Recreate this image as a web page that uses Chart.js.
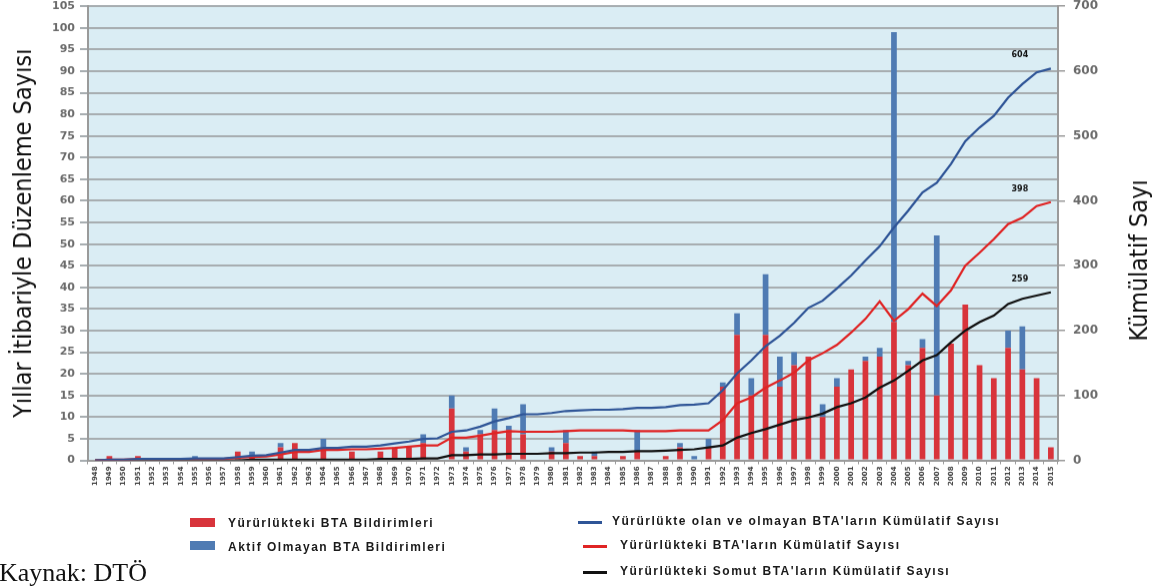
<!DOCTYPE html>
<html>
<head>
<meta charset="utf-8">
<script src="https://cdn.jsdelivr.net/npm/chart.js@4.4.0/dist/chart.umd.min.js"></script>
<style>
  body { margin: 0; background: #fff; width: 1173px; height: 587px; overflow: hidden; position: relative; font-family: "Liberation Sans", Arial, sans-serif; }
  #wrap { position: absolute; left: 0; top: -9px; width: 1173px; height: 587px; }
  .leg { position: absolute; font-weight: bold; font-size: 12px; letter-spacing: 1.5px; color: #1a1a1a; white-space: nowrap; line-height: 13px; }
  .sw { position: absolute; width: 25px; height: 9px; }
  .ln { position: absolute; width: 24px; height: 3px; }
  #src { position: absolute; left: -1px; top: 560px; font-family: "Liberation Serif", serif; font-size: 26px; line-height: 26px; color: #111; }
</style>
</head>
<body>
<div id="wrap"><canvas id="bta"></canvas></div>

<div class="sw" style="left:190px;top:518px;background:#d8343b"></div>
<div class="leg" style="left:228px;top:517px">Yürürlükteki BTA Bildirimleri</div>
<div class="sw" style="left:190px;top:541px;background:#4f7bb3"></div>
<div class="leg" style="left:228px;top:541px">Aktif Olmayan BTA Bildirimleri</div>

<div class="ln" style="left:578px;top:521px;background:#2f5597"></div>
<div class="leg" style="left:612px;top:515px">Yürürlükte olan ve olmayan BTA'ların Kümülatif Sayısı</div>
<div class="ln" style="left:583px;top:545px;background:#e02424"></div>
<div class="leg" style="left:620px;top:539px">Yürürlükteki BTA'ların Kümülatif Sayısı</div>
<div class="ln" style="left:583px;top:571px;background:#111"></div>
<div class="leg" style="left:620px;top:565px">Yürürlükteki Somut BTA'ların Kümülatif Sayısı</div>

<div id="src">Kaynak: DTÖ</div>

<script>
// years on the x axis
const years = ['1948','1949','1950','1951','1952','1953','1954','1955','1956','1957',
               '1958','1959','1960','1961','1962','1963','1964','1965','1966','1967',
               '1968','1969','1970','1971','1972','1973','1974','1975','1976','1977',
               '1978','1979','1980','1981','1982','1983','1984','1985','1986','1987',
               '1988','1989','1990','1991','1992','1993','1994','1995','1996','1997',
               '1998','1999','2000','2001','2002','2003','2004','2005','2006','2007',
               '2008','2009','2010','2011','2012','2013','2014','2015'];

// notifications per year (left axis)
const activeNotifs = [0,1,0,1,0,0,0,0,0,0,
                      2,1,0,3,4,0,3,0,2,0,
                      2,3,3,4,0,12,2,6,7,7,
                      6,0,2,4,1,1,0,1,2,0,
                      1,3,0,3,17,29,15,29,17,22,
                      24,10,17,21,23,24,32,22,26,15,
                      27,36,22,19,26,21,19,3];
const inactiveNotifs = [0,0,0,0,0,0,0,1,0,0,
                        0,1,0,1,0,0,2,0,0,0,
                        0,0,0,2,0,3,1,1,5,1,
                        7,0,1,3,0,1,0,0,5,0,
                        0,1,1,2,1,5,4,14,7,3,
                        0,3,2,0,1,2,67,1,2,37,
                        0,0,0,0,4,10,0,0];

// cumulative counts (right axis)
const cumAll = [0,1,1,2,2,2,2,3,3,3,
                5,7,8,12,16,16,19,19,21,21,
                23,26,29,33,34,44,46,52,60,65,
                71,71,73,76,77,78,78,79,81,81,
                82,85,86,88,108,134,154,176,192,212,
                235,246,265,285,308,330,359,385,413,428,
                457,492,513,531,559,580,598,604];
const cumActive = [0,1,1,2,2,2,2,2,2,2,
                   4,5,6,9,13,13,16,16,17,17,
                   18,19,21,23,23,35,35,38,42,45,
                   44,44,44,45,46,46,46,46,45,45,
                   45,46,46,46,62,88,97,112,123,135,
                   154,165,178,197,218,245,215,233,257,238,
                   262,300,320,341,364,374,392,398];
const cumConcrete = [0,0,0,0,0,0,0,0,0,0,
                     0,1,1,1,1,1,1,1,1,1,
                     2,2,2,3,3,8,8,9,9,10,
                     10,10,11,11,12,12,13,13,14,14,
                     15,16,17,20,23,35,42,48,55,62,
                     66,72,82,88,97,112,123,138,154,162,
                     182,200,213,223,241,249,254,259];

// light blue plot background + right axis title + end labels
const extras = {
    id: 'extras',
    beforeDraw(chart) {
        const a = chart.chartArea, ctx = chart.ctx;
        ctx.save();
        ctx.fillStyle = '#daedf4';
        ctx.fillRect(a.left, a.top, a.right - a.left, a.bottom - a.top);
        ctx.restore();
    },
    afterDatasetsDraw(chart) {
        const ctx = chart.ctx;
        ctx.save();
        ctx.font = 'bold 8px "DejaVu Sans"';
        ctx.fillStyle = '#111';
        ctx.textAlign = 'center';
        ctx.textBaseline = 'middle';
        [2, 3, 4].forEach(i => {
            const meta = chart.getDatasetMeta(i);
            const p = meta.data[meta.data.length - 1];
            const v = chart.data.datasets[i].data[meta.data.length - 1];
            ctx.fillText(String(v), p.x - 31, p.y - 13);
        });
        // right axis title, reads bottom to top
        ctx.font = '25px "Liberation Sans Narrow", "DejaVu Sans Condensed", sans-serif';
        ctx.translate(1140, 269);
        ctx.rotate(-Math.PI / 2);
        ctx.fillText('Kümülatif Sayı', 0, 0);
        ctx.restore();
    }
};

const ctx = document.getElementById('bta').getContext('2d');
const chart = new Chart(ctx, {
    type: 'bar',
    data: {
        labels: years,
        datasets: [
            {
                label: 'Yürürlükteki BTA Bildirimleri',
                data: activeNotifs,
                backgroundColor: '#d8343b',
                stack: 'n',
                yAxisID: 'y',
                barPercentage: 0.4,
                categoryPercentage: 1,
                order: 2
            },
            {
                label: 'Aktif Olmayan BTA Bildirimleri',
                data: inactiveNotifs,
                backgroundColor: '#4f7bb3',
                stack: 'n',
                yAxisID: 'y',
                barPercentage: 0.4,
                categoryPercentage: 1,
                order: 2
            },
            {
                type: 'line',
                label: "Yürürlükte olan ve olmayan BTA'ların Kümülatif Sayısı",
                data: cumAll,
                borderColor: '#2f5597',
                borderWidth: 2.2,
                pointRadius: 0,
                yAxisID: 'y1',
                order: 1
            },
            {
                type: 'line',
                label: "Yürürlükteki BTA'ların Kümülatif Sayısı",
                data: cumActive,
                borderColor: '#e02424',
                borderWidth: 2.2,
                pointRadius: 0,
                yAxisID: 'y1',
                order: 1
            },
            {
                type: 'line',
                label: "Yürürlükteki Somut BTA'ların Kümülatif Sayısı",
                data: cumConcrete,
                borderColor: '#111111',
                borderWidth: 2.2,
                pointRadius: 0,
                yAxisID: 'y1',
                order: 1
            }
        ]
    },
    options: {
        responsive: false,
        animation: false,
        layout: { padding: { left: 9, right: 20, top: -9, bottom: 91 } },
        plugins: {
            legend: { display: false },
            tooltip: { enabled: false }
        },
        scales: {
            x: {
                stacked: true,
                ticks: {
                    autoSkip: false,
                    maxRotation: 90,
                    minRotation: 90,
                    padding: 2,
                    color: '#444',
                    font: { family: 'DejaVu Sans', weight: 'bold', size: 7 }
                },
                grid: { drawOnChartArea: false, tickLength: 4, color: '#9a9a9a' },
                border: { color: '#9a9a9a', width: 2 },
                afterFit(s) { s.height = 27; }
            },
            y: {
                stacked: true,
                position: 'left',
                min: 0,
                max: 105,
                ticks: {
                    stepSize: 5,
                    padding: 5,
                    color: '#6b6b6b',
                    font: { family: 'DejaVu Sans', weight: 'bold', size: 11 }
                },
                grid: { color: '#a7adb0', lineWidth: 2, tickLength: 8 },
                border: { display: true, color: '#9a9a9a', width: 2 },
                title: {
                    display: true,
                    text: 'Yıllar İtibariyle Düzenleme Sayısı',
                    color: '#111',
                    padding: 0,
                    font: { family: '"Liberation Sans Narrow", "DejaVu Sans Condensed", sans-serif', size: 25 }
                },
                afterFit(s) { s.width = 79; }
            },
            y1: {
                position: 'right',
                min: 0,
                max: 700,
                ticks: {
                    stepSize: 100,
                    padding: 8,
                    color: '#6b6b6b',
                    font: { family: 'DejaVu Sans', weight: 'bold', size: 12 }
                },
                grid: { drawOnChartArea: false, tickLength: 7, color: '#9a9a9a', lineWidth: 1.5 },
                border: { display: true, color: '#9a9a9a', width: 2 },
                afterFit(s) { s.width = 95; }
            }
        }
    },
    plugins: [extras]
});
chart.canvas.width = 1173;
chart.resize(1173, 587);
</script>
</body>
</html>
